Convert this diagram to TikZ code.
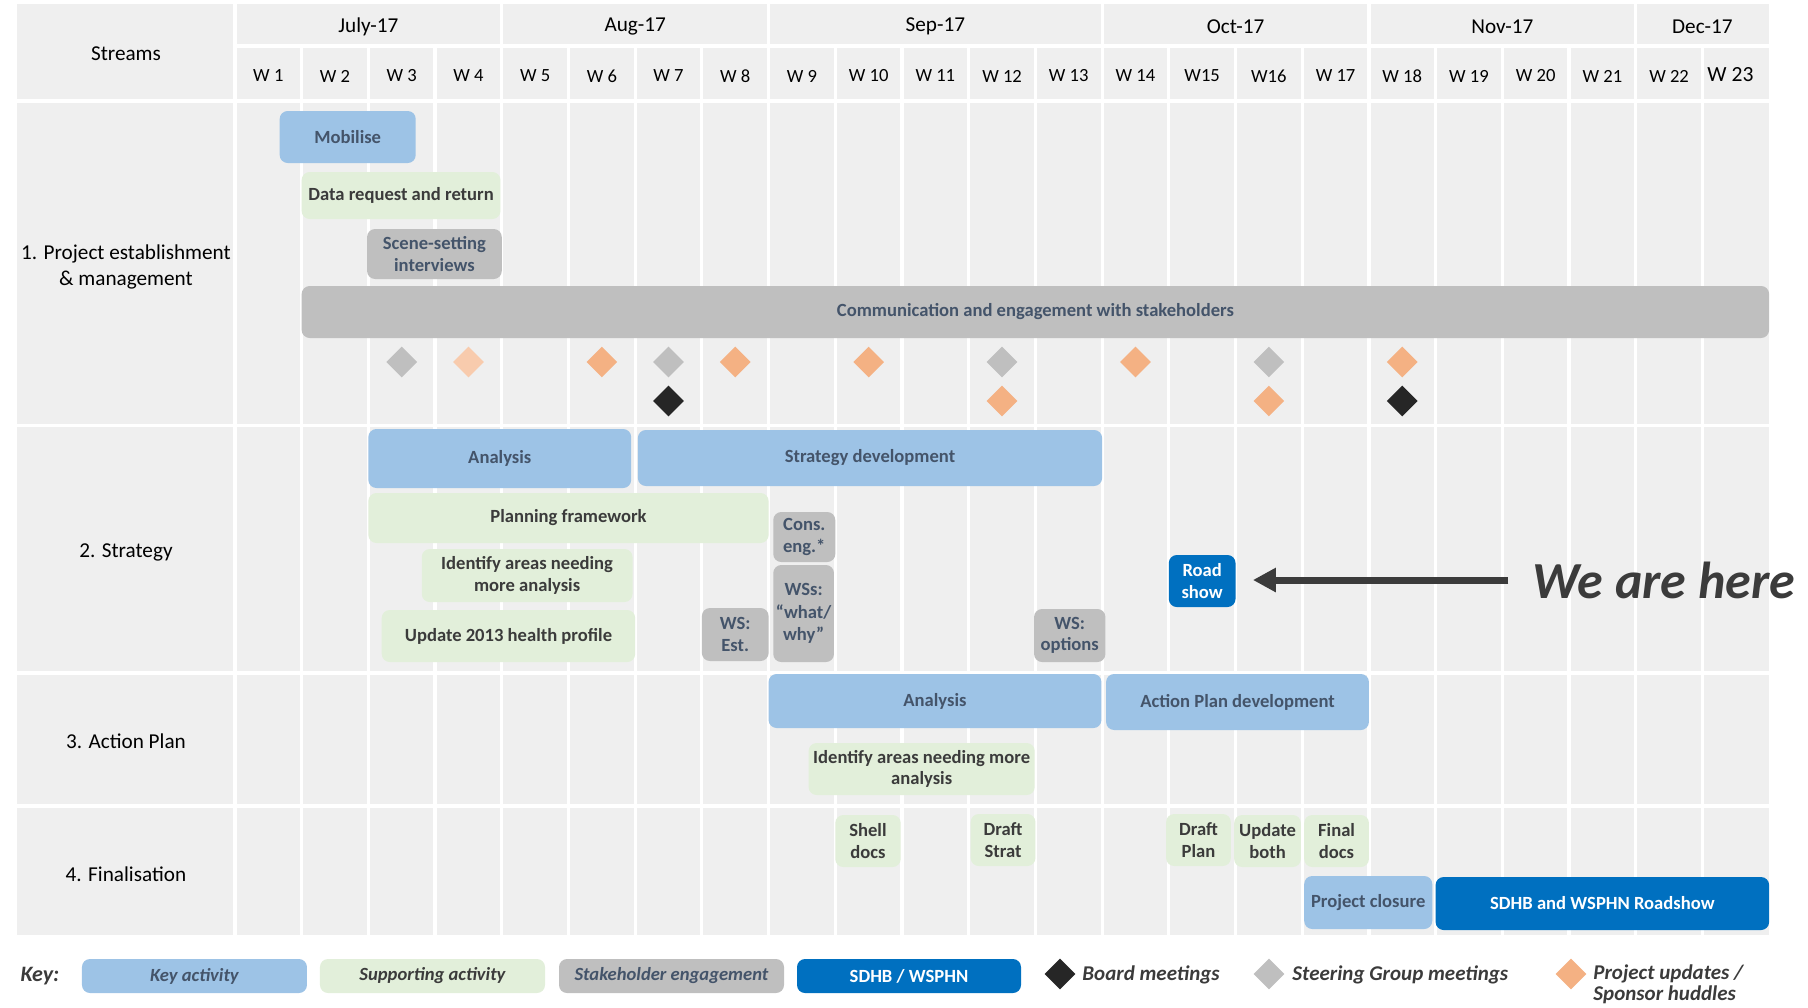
\documentclass[tikz,border=0pt]{standalone}
\usepackage{fontspec}
\setmainfont{Carlito}
\usepackage{tikz}
\usetikzlibrary{arrows.meta,positioning,shapes.geometric}
\definecolor{cellgray}{HTML}{EFEFEF}
\definecolor{keyblue}{HTML}{9DC3E6}
\definecolor{suppgreen}{HTML}{E2EFDA}
\definecolor{stakegray}{HTML}{BFBFBF}
\definecolor{sdhbblue}{HTML}{0070C0}
\definecolor{slate}{HTML}{44546A}
\definecolor{inkgray}{HTML}{3B3B3B}
\definecolor{boardblack}{HTML}{262626}
\definecolor{updorange}{HTML}{F4B183}
\definecolor{updpeach}{HTML}{F8CBAD}
\tikzset{
  weeks/.style n args={4}{minimum width={(#3-#1)*33.35pt}, minimum height={(#4-#2)*0.5pt}, at={({(#1+#3)/2},{(#2+#4)/2})}},
  bar/.style={rounded corners=4pt, inner sep=0pt, align=center, font=\fontsize{9.3}{10.8}\selectfont\bfseries},
  keyact/.style={bar, fill=keyblue, text=slate},
  suppact/.style={bar, fill=suppgreen, text=inkgray},
  stakeact/.style={bar, fill=stakegray, text=slate},
  sdhbact/.style={bar, fill=sdhbblue, text=white},
  milestone/.style={diamond, inner sep=0pt, minimum width=15.5pt, minimum height=15.5pt},
  gridline/.style={white, line width=1.6pt},
  streamlabel/.style={align=center, font=\fontsize{10.6}{12.6}\selectfont},
  weeklabel/.style={font=\fontsize{9.3}{11}\selectfont},
  keytext/.style={font=\fontsize{9.3}{11}\selectfont\bfseries\itshape},
  keylabel/.style={anchor=base west, inner sep=0pt, text=inkgray, align=left, font=\fontsize{10.5}{10.5}\selectfont\bfseries\itshape},
  pointer/.style={-{Triangle[length=11.5pt,width=11.5pt]}, line width=3.5pt, draw=inkgray}
}

\begin{document}
\begin{tikzpicture}[x=33.35pt, y=-0.5pt]
  \useasboundingbox (-3.523,0) rectangle (23.583,1007);
  \fill[cellgray] (-3.268,4) rectangle (23,935);
  \draw[gridline] (0,46) -- (23,46);
  \foreach \y in {101,425.5,673,806}
    \draw[gridline] (-3.268,\y) -- (23,\y);
  \foreach \k in {1,...,22}
    \draw[gridline] (\k,46) -- (\k,935);
  \foreach \k in {0,4,8,13,17,21}
    \draw[gridline] (\k,4) -- (\k,935);

  \node[streamlabel] (streams) at (-1.634,54) {Streams};
  \foreach \m/\c [count=\i] in {July-17/2,Aug-17/6,Sep-17/10.5,Oct-17/15,Nov-17/19,Dec-17/22}
    \node[streamlabel] (month\i) at (\c,26.5) {\m};
  \foreach \w [count=\i] in {W 1,W 2,W 3,W 4,W 5,W 6,W 7,W 8,W 9,W 10,W 11,W 12,W 13,W 14,W15,W16,W 17,W 18,W 19,W 20,W 21,W 22}
    \node[weeklabel] (wk\i) at (\i-0.5,76) {\w};
  \node[weeklabel, font=\fontsize{10.8}{12}\selectfont] (wk23) at (22.42,74.5) {W 23};

  \node[streamlabel] (s1) at (-1.634,267) {1. Project establishment\\\& management};
  \node[streamlabel] (s2) at (-1.634,552) {2. Strategy};
  \node[streamlabel] (s3) at (-1.634,741) {3. Action Plan};
  \node[streamlabel] (s4) at (-1.634,874) {4. Finalisation};

  \node[keyact, weeks={0.67}{111}{2.71}{163}] (mob) {Mobilise};
  \node[suppact, weeks={1.0}{172}{3.98}{219}] (datareq) {Data request and return};
  \node[stakeact, weeks={1.98}{229}{4.0}{279}] (scene) {Scene-setting\\interviews};
  \node[stakeact, weeks={1.0}{286}{23.0}{338}] (comm) {Communication and engagement with stakeholders};
  \foreach \w/\c [count=\i] in {3/stakegray,4/updpeach,6/updorange,7/stakegray,8/updorange,10/updorange,12/stakegray,14/updorange,16/stakegray,18/updorange}
    \node[milestone, fill=\c] (msa\i) at (\w-0.5,362) {};
  \foreach \w/\c [count=\i] in {7/boardblack,12/updorange,16/updorange,18/boardblack}
    \node[milestone, fill=\c] (msb\i) at (\w-0.5,401) {};

  \node[keyact, weeks={2.0}{429}{5.94}{488}] (anstrat) {Analysis};
  \node[keyact, weeks={6.04}{430}{13.0}{486}] (stratdev) {Strategy development};
  \node[suppact, weeks={2.0}{493}{8.0}{543}] (planfw) {Planning framework};
  \node[stakeact, weeks={8.07}{512}{9.0}{562}] (conseng) {Cons.\\eng.*};
  \node[suppact, weeks={2.8}{549}{5.96}{602}] (identstrat) {Identify areas needing\\more analysis};
  \node[stakeact, weeks={8.07}{565}{8.98}{662}, font=\fontsize{9.3}{11.2}\selectfont\bfseries] (wswhat) {WSs:\\“what/\\why”};
  \node[suppact, weeks={2.2}{610}{6.0}{662}] (health) {Update 2013 health profile};
  \node[stakeact, weeks={7.0}{608}{8.0}{661}] (wsest) {WS:\\Est.};
  \node[stakeact, weeks={11.98}{609}{13.05}{662}] (wsopt) {WS:\\options};
  \node[sdhbact, weeks={14.0}{555}{15.0}{607}] (road) {Road\\show};
  \node[anchor=west, inner sep=0pt, text=inkgray, font=\fontsize{26}{30}\selectfont\bfseries\itshape] (here) at (19.45,580) {We are here};
  \draw[pointer, shorten <=12pt, shorten >=8.5pt] (here.west) -- (here.west -| road.east);

  \node[keyact, weeks={8.0}{674}{12.99}{728}] (anplan) {Analysis};
  \node[keyact, weeks={13.06}{674}{17.0}{730}] (apdev) {Action Plan development};
  \node[suppact, weeks={8.6}{743}{11.99}{795}] (identplan) {Identify areas needing more\\analysis};

  \node[suppact, weeks={9.0}{815}{9.98}{867}] (shell) {Shell\\docs};
  \node[suppact, weeks={11.03}{814}{12.0}{866}] (draftstrat) {Draft\\Strat};
  \node[suppact, weeks={13.96}{814}{14.93}{866}] (draftplan) {Draft\\Plan};
  \node[suppact, weeks={14.98}{815}{15.98}{867}] (updboth) {Update\\both};
  \node[suppact, weeks={16.03}{815}{17.0}{867}] (finaldocs) {Final\\docs};
  \node[keyact, weeks={16.03}{876}{17.95}{929}] (closure) {Project closure};
  \node[sdhbact, weeks={18.0}{877}{23.0}{930}] (roadshow) {SDHB and WSPHN Roadshow};

  \node[keylabel, font=\fontsize{11}{13}\selectfont\bfseries\itshape] (key) at (-3.22,981) {Key:};
  \node[keyact, keytext, weeks={-2.294}{959}{1.079}{993}] (kkey) {Key activity};
  \node[suppact, keytext, weeks={1.274}{959}{4.648}{993}] (ksupp) {Supporting activity};
  \node[stakeact, keytext, weeks={4.858}{959}{8.231}{993}] (kstake) {Stakeholder engagement};
  \node[sdhbact, weeks={8.426}{959}{11.784}{993}] (ksdhb) {SDHB / WSPHN};
  \node[milestone, fill=boardblack] (kboard) at (12.369,974) {};
  \node[keylabel] (kboardlab) at (12.699,980) {Board meetings};
  \node[milestone, fill=stakegray] (ksteer) at (15.502,974) {};
  \node[keylabel] (ksteerlab) at (15.847,980) {Steering Group meetings};
  \node[milestone, fill=updorange] (kupd) at (20.03,974) {};
  \node[keylabel] (kupdlab) at (20.36,1000) {Project updates /\\Sponsor huddles};
\end{tikzpicture}
\end{document}
